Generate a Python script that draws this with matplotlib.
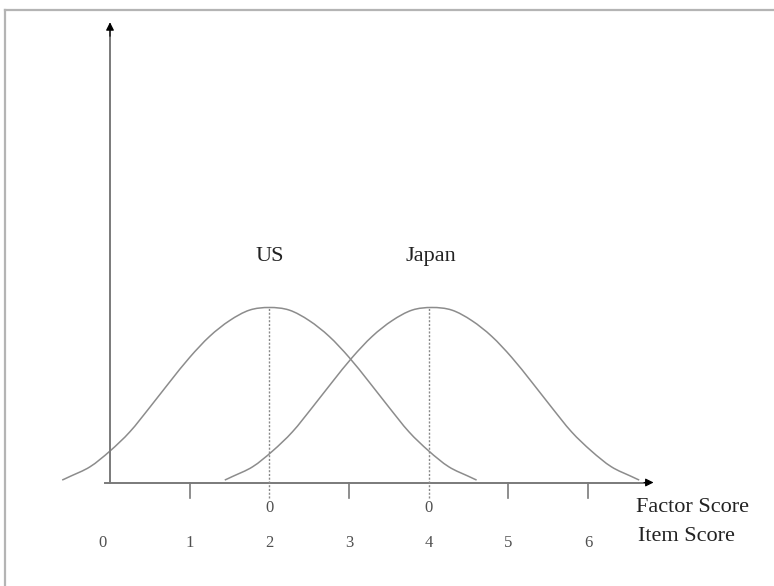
import matplotlib.pyplot as plt
from matplotlib.lines import Line2D
from matplotlib.path import Path
from matplotlib.patches import PathPatch

# points (x = item score, y = height relative to the peak)
us_x = [-0.60, -0.50, -0.25, 0.00, 0.25, 0.50, 0.75, 1.00, 1.25, 1.50, 1.75, 2.00,
        2.25, 2.50, 2.75, 3.00, 3.25, 3.50, 3.75, 4.00, 4.25, 4.50, 4.60]
us_y = [0.014, 0.035, 0.090, 0.180, 0.290, 0.430, 0.575, 0.715, 0.835, 0.925, 0.985, 1.000,
        0.985, 0.925, 0.835, 0.715, 0.575, 0.430, 0.290, 0.180, 0.090, 0.035, 0.014]

jp_x = [1.44, 1.54, 1.79, 2.04, 2.29, 2.54, 2.79, 3.04, 3.29, 3.54, 3.79, 4.04,
        4.29, 4.54, 4.79, 5.04, 5.29, 5.54, 5.79, 6.04, 6.29, 6.54, 6.64]
jp_y = [0.014, 0.035, 0.090, 0.180, 0.290, 0.430, 0.575, 0.715, 0.835, 0.925, 0.985, 1.000,
        0.985, 0.925, 0.835, 0.715, 0.575, 0.430, 0.290, 0.180, 0.090, 0.035, 0.014]

us_mean = 2
jp_mean = 4
item_ticks = [0, 1, 2, 3, 4, 5, 6]
plain_ticks = [1, 3, 5, 6]

serif = ['Liberation Serif', 'DejaVu Serif']


def smooth_path(xs, ys):
    # catmull-rom through the read points, drawn as bezier segments
    pts = list(zip(xs, ys))
    pts = [pts[0]] + pts + [pts[-1]]
    verts = [pts[1]]
    codes = [Path.MOVETO]
    for i in range(1, len(pts) - 2):
        p0, p1, p2, p3 = pts[i - 1], pts[i], pts[i + 1], pts[i + 2]
        c1 = (p1[0] + (p2[0] - p0[0]) / 6, p1[1] + (p2[1] - p0[1]) / 6)
        c2 = (p2[0] - (p3[0] - p1[0]) / 6, p2[1] - (p3[1] - p1[1]) / 6)
        verts += [c1, c2, p2]
        codes += [Path.CURVE4] * 3
    return Path(verts, codes)


fig = plt.figure(figsize=(7.74, 5.86), dpi=100)
ax = fig.add_axes([0, 0, 1, 1])
ax.set_xlim(-110 / 79.7, (774 - 110) / 79.7)
ax.set_ylim(-(586 - 482.5) / 175, 482.5 / 175)
ax.axis('off')

# frame around the picture (runs off right and bottom)
fig.add_artist(Line2D([5 / 774, 1], [576 / 586, 576 / 586], color='#b4b4b4', lw=1.6))
fig.add_artist(Line2D([5 / 774, 5 / 774], [0, 576 / 586], color='#b4b4b4', lw=1.6))

axcol = '#7a7a7a'
ax.plot([-0.06, 6.72], [0, 0], color=axcol, lw=1.4)
ax.plot([0, 0], [0, 2.58], color=axcol, lw=1.4)
# black arrowheads
ax.annotate('', xy=(6.82, 0), xytext=(6.70, 0),
            arrowprops=dict(arrowstyle='-|>', lw=0.8, mutation_scale=12,
                            shrinkA=0, shrinkB=0, fc='black', ec='black'))
ax.annotate('', xy=(0, 2.63), xytext=(0, 2.55),
            arrowprops=dict(arrowstyle='-|>', lw=0.8, mutation_scale=12,
                            shrinkA=0, shrinkB=0, fc='black', ec='black'))

for t in plain_ticks:
    ax.plot([t, t], [0, -0.086], color=axcol, lw=1.2)

# dashed lines from the mean to the peak
for m in [us_mean, jp_mean]:
    ax.plot([m, m], [-0.086, 1.0], color='#8a8a8a', lw=1.0, ls=(0, (1.5, 1.2)))

for xs, ys in [(us_x, us_y), (jp_x, jp_y)]:
    ax.add_patch(PathPatch(smooth_path(xs, ys), fc='none', ec='#8c8c8c', lw=1.1))

ax.text(us_mean, 1.293, 'US', ha='center', va='center', fontsize=16,
        family=serif, color='#222222')
ax.text(jp_mean + 0.02, 1.293, 'Japan', ha='center', va='center', fontsize=16,
        family=serif, color='#222222')

for m in [us_mean, jp_mean]:
    ax.text(m, -0.145, '0', ha='center', va='center', fontsize=12,
            family=serif, color='#505050')
for t in item_ticks:
    ax.text(t - 0.1 if t == 0 else t, -0.345, str(t), ha='center', va='center',
            fontsize=12, family=serif, color='#505050')

ax.text(6.6, -0.14, 'Factor Score', ha='left', va='center', fontsize=16,
        family=serif, color='#222222')
ax.text(6.62, -0.31, 'Item Score', ha='left', va='center', fontsize=16,
        family=serif, color='#222222')

fig.savefig('out.png', dpi=100)
